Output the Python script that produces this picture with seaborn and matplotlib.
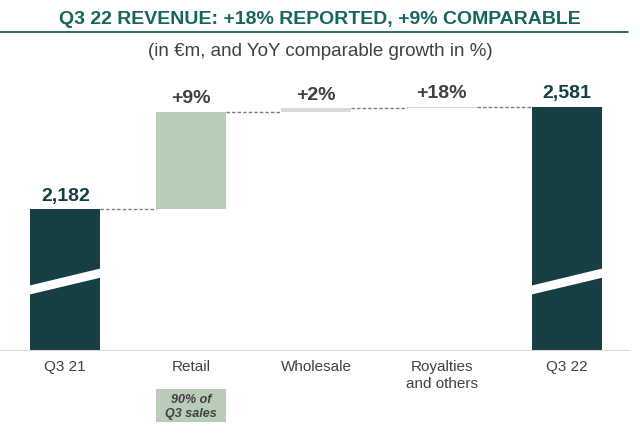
import pandas as pd
import seaborn as sns
import matplotlib.pyplot as plt
from matplotlib.lines import Line2D
from matplotlib.patches import Polygon, Rectangle
from matplotlib.transforms import blended_transform_factory

# -----------------------
# Data
# -----------------------
categories = ["Q3 21", "Retail", "Wholesale", "Royalties\nand others", "Q3 22"]
steps = [2182, 380, 15, 4, 2581]          # totals at both ends, increments in between
kinds = ["total", "up", "up", "up", "total"]
bar_labels = ["2,182", "+9%", "+2%", "+18%", "2,581"]
axis_floor = 1627                         # broken axis: bars start here

DARK = "#163f44"
TEAL = "#17665e"
GREY_TXT = "#404040"
colors = [DARK, "#b8ccb8", "#d9d9d9", "#d9d9d9", DARK]
label_colors = [DARK, GREY_TXT, GREY_TXT, GREY_TXT, DARK]

bottoms, tops = [], []
level = 0
for v, k in zip(steps, kinds):
    if k == "total":
        bottoms.append(axis_floor)
        tops.append(v)
        level = v
    else:
        bottoms.append(level)
        level += v
        tops.append(level)

df = pd.DataFrame({
    "category": categories,
    "bottom": bottoms,
    "height": [t - b for t, b in zip(tops, bottoms)],
})

# -----------------------
# Plot
# -----------------------
sns.set_theme(style="white")
plt.rcParams["font.family"] = ["Liberation Sans", "DejaVu Sans"]

fig = plt.figure(figsize=(6.4, 4.35), dpi=100)
ax = fig.add_axes([0, 1 - 352 / 435, 630 / 640, (352 - 95) / 435])

w = 0.56
sns.barplot(
    data=df,
    x="category",
    y="height",
    order=categories,
    bottom=df["bottom"].values,
    width=w,
    color=DARK,
    errorbar=None,
    ax=ax,
)
for patch, c in zip(ax.patches, colors):
    patch.set_facecolor(c)
    patch.set_edgecolor("none")

ax.set_xlim(-0.52, 4.5)
ax.set_ylim(axis_floor, 2632)

# connectors
for i in range(len(categories) - 1):
    ax.plot([i + w / 2, i + 1 - w / 2], [tops[i], tops[i]],
            ls=(0, (2.5, 1.5)), color="#7f7f7f", lw=1)

# axis break marks on the total bars
for i in [0, 4]:
    x0, x1 = i - w / 2 - 0.02, i + w / 2 + 0.02
    ax.add_patch(Polygon([(x0, 1846), (x1, 1916), (x1, 1952), (x0, 1881)],
                         closed=True, fc="white", ec="none", zorder=3))

# value labels
for i, (t, lab, c) in enumerate(zip(tops, bar_labels, label_colors)):
    ax.annotate(lab, (i, t), xytext=(0, 4), textcoords="offset points",
                ha="center", va="bottom", fontsize=14, fontweight="bold", color=c)

ax.axhline(axis_floor, color="#d9d9d9", lw=1.5, zorder=4)
sns.despine(ax=ax, left=True, bottom=True)
ax.set_yticks([])
ax.set_xlabel("")
ax.set_ylabel("")
ax.tick_params(axis="x", length=0, pad=6, labelsize=11, labelcolor=GREY_TXT)

# retail share box
tr = blended_transform_factory(ax.transData, fig.transFigure)
ax.add_patch(Rectangle((1 - w / 2, 1 - 423 / 435), w, 33 / 435, transform=tr,
                       fc="#b8ccb8", ec="none", clip_on=False))
ax.text(1, 1 - 407 / 435, "90% of\nQ3 sales", transform=tr, ha="center", va="center",
        fontsize=9, fontweight="bold", fontstyle="italic", color=GREY_TXT,
        linespacing=1.2)

# title block
fig.text(0.5, 1 - 20 / 435, "Q3 22 REVENUE: +18% REPORTED, +9% COMPARABLE",
         ha="center", va="center", fontsize=14, fontweight="bold", color=TEAL)
fig.add_artist(Line2D([0, 628 / 640], [1 - 33 / 435] * 2, color=TEAL, lw=1.3))
fig.text(0.5, 1 - 52 / 435, "(in €m, and YoY comparable growth in %)",
         ha="center", va="center", fontsize=13.5, color=GREY_TXT)

fig.savefig("out.png", dpi=100)
